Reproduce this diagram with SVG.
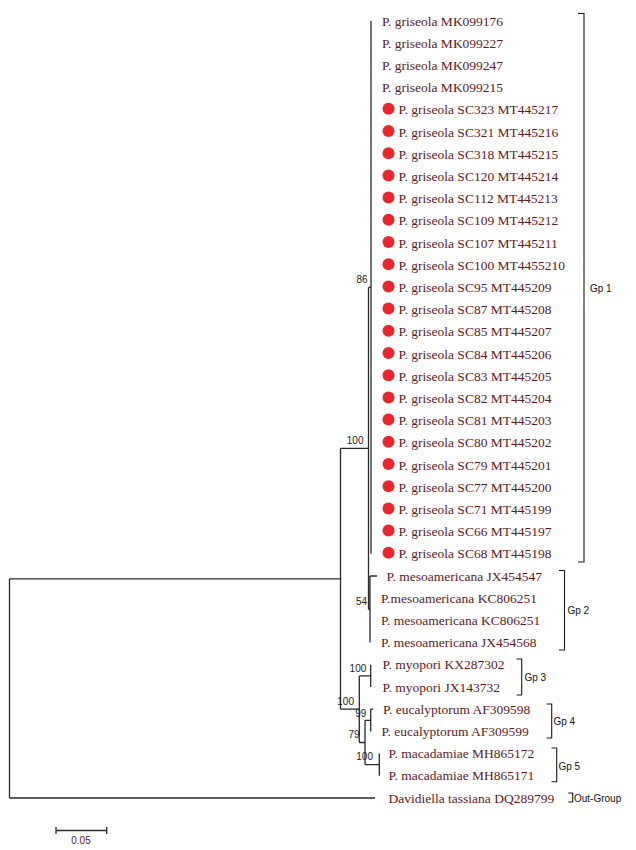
<svg xmlns="http://www.w3.org/2000/svg" width="636" height="850" viewBox="0 0 636 850">
<style>
.tx{font-family:"Liberation Serif","Times New Roman",serif;font-size:13.5px;fill:#5b1a1e}
.bs{font-family:"Liberation Sans",Arial,sans-serif;font-size:10px;fill:#222;text-anchor:end}
.gp{font-family:"Liberation Sans",Arial,sans-serif;font-size:10px;fill:#111}
.ln{stroke:#2a2a2a;stroke-width:1.3;fill:none}
.br{stroke:#1a1a1a;stroke-width:1.1;fill:none}
.dot{fill:#e8262b}
</style>
<rect width="636" height="850" fill="#ffffff"/>
<g id="connectors" class="ln">
<path d="M371,21V553.8"/>
<path d="M368.5,287.4H371M368.5,287.4V609.3M368.5,609.3H370M370,576V642.6M370,576H377"/>
<path d="M340.5,448.4H368.5"/>
<path d="M340.5,448.4V709.2M340.5,709.2H359.3"/>
<path d="M359.3,675.9V742.5M359.3,675.9H370.7M370.7,664.8V687"/>
<path d="M359.3,742.5H365M365,720.3V764.7M365,720.3H370.7M370.7,709.2V731.4M370.7,709.2H373.3M365,764.7H379.3M379.3,753.6V775.8"/>
<path d="M9.5,578.8H340.5M9.5,578.8V798M9.5,798H375"/>
</g>
<g id="bootstrap">
<text class="bs" x="367.5" y="283">86</text>
<text class="bs" x="363.5" y="444">100</text>
<text class="bs" x="367" y="605">54</text>
<text class="bs" x="366.3" y="672">100</text>
<text class="bs" x="354" y="705">100</text>
<text class="bs" x="366.3" y="716.7">99</text>
<text class="bs" x="359.5" y="737.5">79</text>
<text class="bs" x="373" y="759.5">100</text>
</g>
<g id="gp1-taxa">
<g id="t0"><text class="tx" x="382" y="25.5">P. griseola MK099176</text></g>
<g id="t1"><text class="tx" x="382" y="47.7">P. griseola MK099227</text></g>
<g id="t2"><text class="tx" x="382" y="69.9">P. griseola MK099247</text></g>
<g id="t3"><text class="tx" x="382" y="92.1">P. griseola MK099215</text></g>
<g id="t4"><circle class="dot" cx="388.5" cy="108.8" r="6"/><text class="tx" x="398.5" y="114.3">P. griseola SC323 MT445217</text></g>
<g id="t5"><circle class="dot" cx="388.5" cy="131" r="6"/><text class="tx" x="398.5" y="136.5">P. griseola SC321 MT445216</text></g>
<g id="t6"><circle class="dot" cx="388.5" cy="153.2" r="6"/><text class="tx" x="398.5" y="158.7">P. griseola SC318 MT445215</text></g>
<g id="t7"><circle class="dot" cx="388.5" cy="175.4" r="6"/><text class="tx" x="398.5" y="180.9">P. griseola SC120 MT445214</text></g>
<g id="t8"><circle class="dot" cx="388.5" cy="197.6" r="6"/><text class="tx" x="398.5" y="203.1">P. griseola SC112 MT445213</text></g>
<g id="t9"><circle class="dot" cx="388.5" cy="219.8" r="6"/><text class="tx" x="398.5" y="225.3">P. griseola SC109 MT445212</text></g>
<g id="t10"><circle class="dot" cx="388.5" cy="242" r="6"/><text class="tx" x="398.5" y="247.5">P. griseola SC107 MT445211</text></g>
<g id="t11"><circle class="dot" cx="388.5" cy="264.2" r="6"/><text class="tx" x="398.5" y="269.7">P. griseola SC100 MT4455210</text></g>
<g id="t12"><circle class="dot" cx="388.5" cy="286.4" r="6"/><text class="tx" x="398.5" y="291.9">P. griseola SC95 MT445209</text></g>
<g id="t13"><circle class="dot" cx="388.5" cy="308.6" r="6"/><text class="tx" x="398.5" y="314.1">P. griseola SC87 MT445208</text></g>
<g id="t14"><circle class="dot" cx="388.5" cy="330.8" r="6"/><text class="tx" x="398.5" y="336.3">P. griseola SC85 MT445207</text></g>
<g id="t15"><circle class="dot" cx="388.5" cy="353" r="6"/><text class="tx" x="398.5" y="358.5">P. griseola SC84 MT445206</text></g>
<g id="t16"><circle class="dot" cx="388.5" cy="375.2" r="6"/><text class="tx" x="398.5" y="380.7">P. griseola SC83 MT445205</text></g>
<g id="t17"><circle class="dot" cx="388.5" cy="397.4" r="6"/><text class="tx" x="398.5" y="402.9">P. griseola SC82 MT445204</text></g>
<g id="t18"><circle class="dot" cx="388.5" cy="419.6" r="6"/><text class="tx" x="398.5" y="425.1">P. griseola SC81 MT445203</text></g>
<g id="t19"><circle class="dot" cx="388.5" cy="441.8" r="6"/><text class="tx" x="398.5" y="447.3">P. griseola SC80 MT445202</text></g>
<g id="t20"><circle class="dot" cx="388.5" cy="464" r="6"/><text class="tx" x="398.5" y="469.5">P. griseola SC79 MT445201</text></g>
<g id="t21"><circle class="dot" cx="388.5" cy="486.2" r="6"/><text class="tx" x="398.5" y="491.7">P. griseola SC77 MT445200</text></g>
<g id="t22"><circle class="dot" cx="388.5" cy="508.4" r="6"/><text class="tx" x="398.5" y="513.9">P. griseola SC71 MT445199</text></g>
<g id="t23"><circle class="dot" cx="388.5" cy="530.6" r="6"/><text class="tx" x="398.5" y="536.1">P. griseola SC66 MT445197</text></g>
<g id="t24"><circle class="dot" cx="388.5" cy="552.8" r="6"/><text class="tx" x="398.5" y="558.3">P. griseola SC68 MT445198</text></g>
</g>
<g id="gp2-taxa">
<g id="t25"><text class="tx" x="386.5" y="580.5">P. mesoamericana JX454547</text></g>
<g id="t26"><text class="tx" x="381" y="602.7">P.mesoamericana KC806251</text></g>
<g id="t27"><text class="tx" x="381" y="624.9">P. mesoamericana KC806251</text></g>
<g id="t28"><text class="tx" x="381" y="647.1">P. mesoamericana JX454568</text></g>
</g>
<g id="gp3-taxa">
<g id="t29"><text class="tx" x="382.5" y="669.3">P. myopori KX287302</text></g>
<g id="t30"><text class="tx" x="382.5" y="691.5">P. myopori JX143732</text></g>
</g>
<g id="gp4-taxa">
<g id="t31"><text class="tx" x="383" y="713.7">P. eucalyptorum AF309598</text></g>
<g id="t32"><text class="tx" x="381.5" y="735.9">P. eucalyptorum AF309599</text></g>
</g>
<g id="gp5-taxa">
<g id="t33"><text class="tx" x="388.5" y="758.1">P. macadamiae MH865172</text></g>
<g id="t34"><text class="tx" x="388.5" y="780.3">P. macadamiae MH865171</text></g>
</g>
<g id="outgroup-taxon">
<g id="t35"><text class="tx" x="388.5" y="802.5">Davidiella tassiana DQ289799</text></g>
</g>
<g id="bracket-gp1"><path class="br" d="M578,13.5H584V562H578"/><text class="gp" x="590" y="292">Gp 1</text></g>
<g id="bracket-gp2"><path class="br" d="M559,570.5H564.5V650H559"/><text class="gp" x="567.5" y="614">Gp 2</text></g>
<g id="bracket-gp3"><path class="br" d="M516.5,659H521.7V695H516.5"/><text class="gp" x="524.5" y="681">Gp 3</text></g>
<g id="bracket-gp4"><path class="br" d="M546.5,704H551.7V738H546.5"/><text class="gp" x="553.5" y="725">Gp 4</text></g>
<g id="bracket-gp5"><path class="br" d="M551.5,748H556.7V781.7H551.5"/><text class="gp" x="558.5" y="770">Gp 5</text></g>
<g id="bracket-out"><path class="br" d="M568.3,793H572.7V802H568.3"/><text class="gp" x="574" y="802">Out-Group</text></g>
<g id="scale-bar"><path class="ln" d="M56,830.5H106.7M56,827V834M106.7,827V834"/><text x="81" y="843.5" font-family="Liberation Sans, Arial, sans-serif" font-size="10" fill="#5b1a1e" text-anchor="middle">0.05</text></g>
</svg>
